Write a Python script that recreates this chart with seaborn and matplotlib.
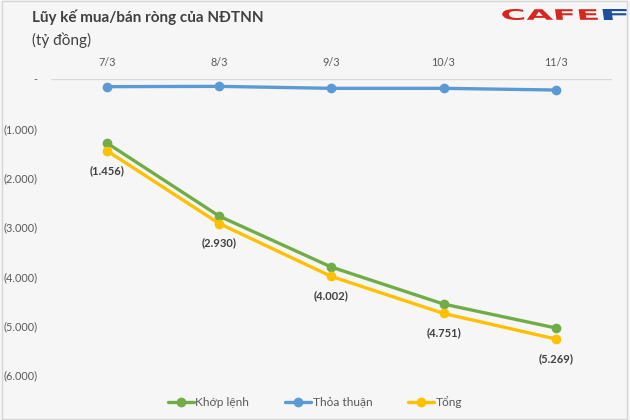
import matplotlib
matplotlib.use("Agg")
import matplotlib.pyplot as plt
import matplotlib.patches as mpatches
from matplotlib.ticker import FuncFormatter
from matplotlib.textpath import TextPath
from matplotlib.font_manager import FontProperties
from matplotlib.transforms import Affine2D, IdentityTransform
import seaborn as sns
import pandas as pd

dates = ["7/3", "8/3", "9/3", "10/3", "11/3"]
khop_lenh = [-1300, -2780, -3812, -4561, -5045]
thoa_thuan = [-156, -150, -190, -190, -224]
tong = [-1456, -2930, -4002, -4751, -5269]
series_names = ["Khớp lệnh", "Thỏa thuận", "Tổng"]
colors = ["#70AD47", "#5B9BD5", "#FFC000"]
y_ticks = [0, -1000, -2000, -3000, -4000, -5000, -6000]

df = pd.DataFrame({
    "date": dates * 3,
    "value": khop_lenh + thoa_thuan + tong,
    "series": [series_names[0]] * 5 + [series_names[1]] * 5 + [series_names[2]] * 5,
})

sns.set_theme(style="white")
plt.rcParams["font.family"] = ["Lato", "DejaVu Sans"]

fig = plt.figure(figsize=(6.3, 4.2), dpi=100)
fig.patch.set_facecolor("#f6f6f6")

fig.add_artist(mpatches.Rectangle((0.003, 0.003), 0.992, 0.994, transform=fig.transFigure,
                                  fill=False, edgecolor="#d6d6d6", linewidth=1, zorder=0))

ax = fig.add_axes([0.081, 0.107, 0.890, 0.705])
ax.set_facecolor("none")

sns.lineplot(data=df, x="date", y="value", hue="series", hue_order=series_names,
             palette=colors, marker="o", markersize=7, markeredgewidth=0,
             linewidth=2.4, ax=ax, legend=True, sort=False)

ax.set_xlim(-0.5, 4.5)
ax.set_ylim(-6000, 0)
ax.set_yticks(y_ticks)

def fmt(v, pos):
    if v == 0:
        return "-"
    return "({:,.0f})".format(abs(v)).replace(",", ".")

ax.yaxis.set_major_formatter(FuncFormatter(fmt))
ax.xaxis.tick_top()
ax.tick_params(axis="x", length=0, pad=8, labelsize=7.8, labelcolor="#595959")
ax.tick_params(axis="y", length=0, pad=10, labelsize=7.8, labelcolor="#595959")
ax.set_xlabel("")
ax.set_ylabel("")
for s in ax.spines.values():
    s.set_visible(False)
ax.axhline(0, color="#d9d9d9", linewidth=1, zorder=0)

for i, v in enumerate(tong):
    ax.annotate(fmt(v, None), (i, v), xytext=(0, -10), textcoords="offset points",
                ha="center", va="top", fontsize=8, fontweight="bold", color="#404040")

handles, labels = ax.get_legend_handles_labels()
ax.legend(handles, labels, loc="center", bbox_to_anchor=(0.5, 0.042),
          bbox_transform=fig.transFigure, ncol=3, frameon=False, fontsize=8.6,
          labelcolor="#595959", handlelength=2.2, handletextpad=0.1,
          columnspacing=3.0)

fig.text(0.05, 0.958, "Lũy kế mua/bán ròng của NĐTNN", fontsize=11,
         fontweight="bold", color="#404040", va="center", ha="left")
fig.text(0.05, 0.905, "(tỷ đồng)", fontsize=11, color="#404040",
         va="center", ha="left")

# CAFEF logo drawn as stretched text paths (pixel coordinates)
prop = FontProperties(family="DejaVu Sans", weight="bold")
def logo_text(s, x0, x1, y0, y1, color):
    tp = TextPath((0, 0), s, size=10, prop=prop)
    bb = tp.get_extents()
    sx = (x1 - x0) / bb.width
    sy = (y1 - y0) / bb.height
    tr = Affine2D().translate(-bb.x0, -bb.y0).scale(sx, sy).skew_deg(-8, 0).translate(x0, y0)
    patch = mpatches.PathPatch(tr.transform_path(tp), facecolor=color, edgecolor="none",
                               transform=IdentityTransform(), zorder=5)
    fig.add_artist(patch)

logo_text("CAFE", 503, 598, 400, 411, "#d7261e")
logo_text("F", 604, 628, 400, 411, "#1f4e9c")

fig.savefig("out.png", dpi=100, facecolor=fig.get_facecolor())
